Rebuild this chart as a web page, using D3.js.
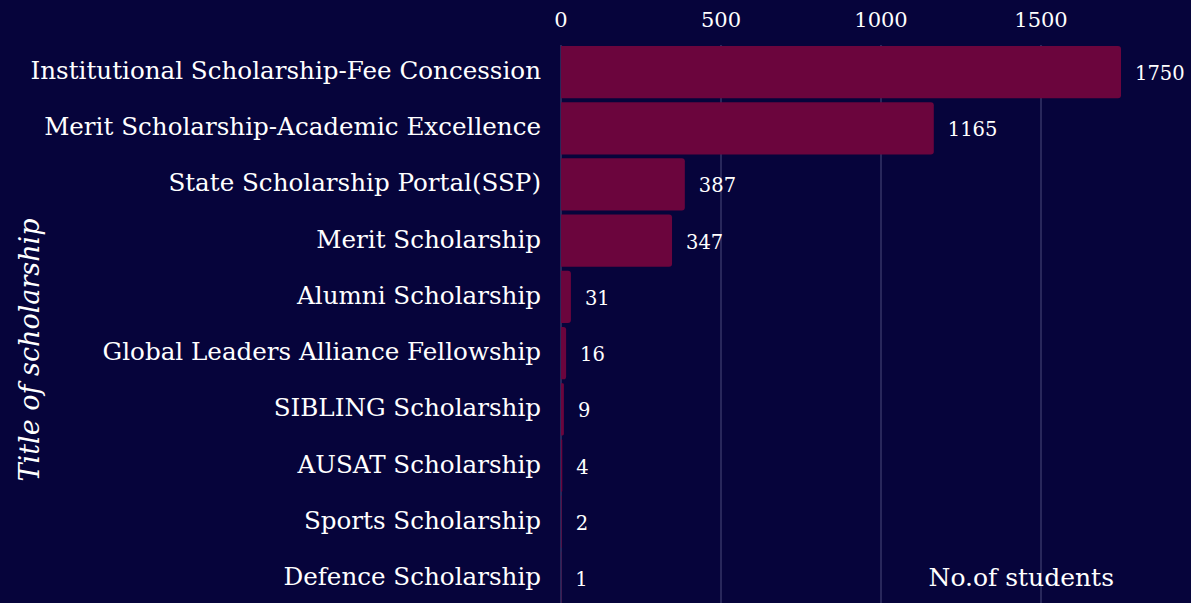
<!DOCTYPE html>
<html>
<head>
<meta charset="utf-8">
<script src="https://cdn.jsdelivr.net/npm/d3@7"></script>
<style>
  body { margin: 0; background: #06043b; overflow: hidden; }
  svg text { font-family: "DejaVu Serif", serif; fill: #ffffff; }
</style>
</head>
<body>
<script>
// chart data
var scholarships = ["Institutional Scholarship-Fee Concession", "Merit Scholarship-Academic Excellence",
  "State Scholarship Portal(SSP)", "Merit Scholarship", "Alumni Scholarship",
  "Global Leaders Alliance Fellowship", "SIBLING Scholarship", "AUSAT Scholarship",
  "Sports Scholarship", "Defence Scholarship"];
var students = [1750, 1165, 387, 347, 31, 16, 9, 4, 2, 1];
var xTicks = [0, 500, 1000, 1500];

var w = 1191, h = 603;
var marginLeft = 561, marginTop = 42;

var svg = d3.select("body").append("svg")
    .attr("width", w)
    .attr("height", h);

svg.append("rect").attr("width", w).attr("height", h).attr("fill", "#06043b");

var x = d3.scaleLinear().domain([0, 500]).range([marginLeft, marginLeft + 160]);
var y = d3.scaleBand().domain(scholarships).range([marginTop, marginTop + 566]).padding(0.07);

// gridlines
svg.selectAll("line.grid")
   .data(xTicks)
   .enter()
   .append("line")
   .attr("x1", d => x(d)).attr("x2", d => x(d))
   .attr("y1", marginTop + 3).attr("y2", h)
   .attr("stroke", "#4b4a7c")
   .attr("stroke-width", 1);

// x tick labels on top
svg.selectAll("text.xt")
   .data(xTicks)
   .enter()
   .append("text")
   .attr("x", d => x(d))
   .attr("y", 27)
   .attr("text-anchor", "middle")
   .style("font-size", "21px")
   .text(d => d);

// bars, rounded at the right end
var data = scholarships.map((s, i) => ({name: s, value: students[i]}));
var r = 3;
svg.selectAll("path.bar")
   .data(data)
   .enter()
   .append("path")
   .attr("fill", "#6b053d")
   .attr("d", function(d) {
       var x0 = x(0), x1 = x(d.value), y0 = y(d.name), bh = y.bandwidth();
       var rr = Math.min(r, (x1 - x0) / 2);
       return "M" + x0 + "," + y0 + "H" + (x1 - rr) +
              "Q" + x1 + "," + y0 + " " + x1 + "," + (y0 + rr) +
              "V" + (y0 + bh - rr) +
              "Q" + x1 + "," + (y0 + bh) + " " + (x1 - rr) + "," + (y0 + bh) +
              "H" + x0 + "Z";
   });

// value labels
svg.selectAll("text.val")
   .data(data)
   .enter()
   .append("text")
   .attr("x", d => x(d.value) + 14)
   .attr("y", d => y(d.name) + y.bandwidth() / 2 + 8)
   .style("font-size", "19.5px")
   .text(d => d.value);

// category labels
svg.selectAll("text.cat")
   .data(data)
   .enter()
   .append("text")
   .attr("x", marginLeft - 20)
   .attr("y", d => y(d.name) + y.bandwidth() / 2 + 7)
   .attr("text-anchor", "end")
   .style("font-size", "24.6px")
   .text(d => d.name);

// axis titles
svg.append("text")
   .attr("x", 1114)
   .attr("y", 586)
   .attr("text-anchor", "end")
   .style("font-size", "25px")
   .text("No.of students");

svg.append("text")
   .attr("transform", "translate(39,350) rotate(-90)")
   .attr("text-anchor", "middle")
   .style("font-size", "27px")
   .style("font-style", "italic")
   .text("Title of scholarship");
</script>
</body>
</html>
